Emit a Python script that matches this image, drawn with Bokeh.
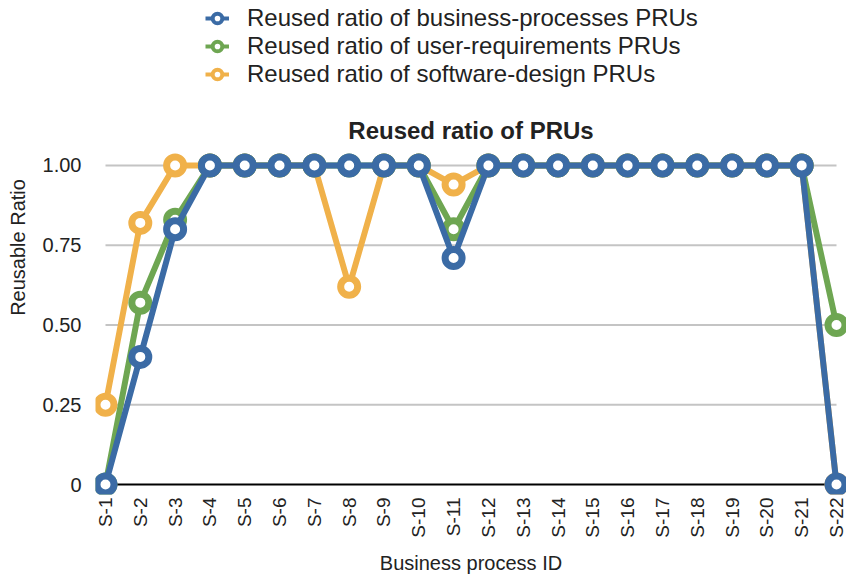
import math
from bokeh.plotting import figure
from bokeh.models import ColumnDataSource, FixedTicker, Legend, LegendItem, Range1d, NumeralTickFormatter, Label
from bokeh.embed import file_html
from bokeh.resources import INLINE

# Business process IDs and reuse ratios per PRU type
process_ids = [f"S-{i}" for i in range(1, 23)]
business_ratio = [0, 0.40, 0.80, 1, 1, 1, 1, 1, 1, 1, 0.71, 1, 1, 1, 1, 1, 1, 1, 1, 1, 1, 0]
user_req_ratio = [0, 0.57, 0.83, 1, 1, 1, 1, 1, 1, 1, 0.80, 1, 1, 1, 1, 1, 1, 1, 1, 1, 1, 0.50]
design_ratio = [0.25, 0.82, 1, 1, 1, 1, 1, 0.62, 1, 1, 0.94, 1, 1, 1, 1, 1, 1, 1, 1, 1, 1, 0]
y_ticks = [0, 0.25, 0.5, 0.75, 1.0]

series = [
    ("Reused ratio of business-processes PRUs", business_ratio, "#3b6ba5"),
    ("Reused ratio of user-requirements PRUs", user_req_ratio, "#6ea652"),
    ("Reused ratio of software-design PRUs", design_ratio, "#f0b14a"),
]

FONT = "Liberation Sans"
TEXT = "#222222"
n = len(process_ids)
xs = list(range(n))

# the frame reaches the top edge so the legend and heading sit inside it
p = figure(
    width=846, height=577, output_backend="svg", toolbar_location=None,
    x_range=Range1d(-0.287, n - 1 + 0.287), y_range=Range1d(-0.0313, 1.517),
    min_border_left=95, min_border_right=0, min_border_top=0, min_border_bottom=83,
)
p.outline_line_color = None
p.xgrid.grid_line_color = None
p.ygrid.grid_line_color = None

# horizontal grid lines spanning the first to last process
grid = ColumnDataSource(dict(x0=[0] * 4, x1=[n - 1] * 4, y=y_ticks[1:]))
p.segment(x0="x0", y0="y", x1="x1", y1="y", source=grid, line_color="#c4c4c4", line_width=2)
base = ColumnDataSource(dict(x0=[0], x1=[n - 1], y=[0]))
p.segment(x0="x0", y0="y", x1="x1", y1="y", source=base, line_color="#000000", line_width=2)

for label, vals, color in reversed(series):
    src = ColumnDataSource(dict(x=xs, y=vals))
    p.line("x", "y", source=src, line_color=color, line_width=6)
    p.scatter("x", "y", source=src, size=17, fill_color="white", line_color=color, line_width=7)

# legend swatches: a short line with a ring marker
legend_items = []
for label, vals, color in series:
    swatch = ColumnDataSource(dict(x=[float("nan")], y=[float("nan")]))
    ln = p.line("x", "y", source=swatch, line_color=color, line_width=4)
    mk = p.scatter("x", "y", source=swatch, size=11, fill_color="white", line_color=color, line_width=4)
    legend_items.append(LegendItem(label=label, renderers=[ln, mk]))

heading = Label(x=(n - 1) / 2, y=max(y_ticks), y_offset=35, text="Reused ratio of PRUs",
                text_align="center", text_baseline="middle", text_font=FONT,
                text_font_size="24px", text_font_style="bold", text_color=TEXT)
p.add_layout(heading)

legend = Legend(items=legend_items, location=(110, 406))
legend.border_line_color = None
legend.background_fill_alpha = 0
legend.padding = 0
legend.margin = 0
legend.spacing = 0
legend.glyph_width = 24
legend.glyph_height = 28
legend.label_height = 28
legend.label_standoff = 18
legend.label_text_font = FONT
legend.label_text_font_size = "24px"
legend.label_text_color = TEXT
p.add_layout(legend, "center")

xa = p.xaxis[0]
xa.ticker = FixedTicker(ticks=xs)
xa.major_label_overrides = {i: s for i, s in zip(xs, process_ids)}
xa.major_label_orientation = math.pi / 2
xa.axis_line_color = None
xa.major_tick_line_color = None
xa.minor_tick_line_color = None
xa.major_tick_out = 0
xa.major_tick_in = 0
xa.minor_tick_out = 0
xa.major_label_standoff = 3
xa.major_label_text_font = FONT
xa.major_label_text_font_size = "19px"
xa.major_label_text_color = TEXT
xa.axis_label = "Business process ID"
xa.axis_label_text_font = FONT
xa.axis_label_text_font_size = "20px"
xa.axis_label_text_font_style = "normal"
xa.axis_label_text_color = TEXT
xa.axis_label_standoff = 11

ya = p.yaxis[0]
ya.ticker = FixedTicker(ticks=y_ticks)
ya.formatter = NumeralTickFormatter(format="0.00")
ya.major_label_overrides = {0: "0"}
ya.axis_line_color = None
ya.major_tick_line_color = None
ya.minor_tick_line_color = None
ya.major_tick_out = 0
ya.major_tick_in = 0
ya.minor_tick_out = 0
ya.major_label_standoff = 14
ya.major_label_text_font = FONT
ya.major_label_text_font_size = "20px"
ya.major_label_text_color = TEXT
ya.axis_label = "Reusable Ratio"
ya.axis_label_text_font = FONT
ya.axis_label_text_font_size = "20px"
ya.axis_label_text_font_style = "normal"
ya.axis_label_text_color = TEXT
ya.axis_label_standoff = 11

open("out.html", "w").write(file_html(p, INLINE))
